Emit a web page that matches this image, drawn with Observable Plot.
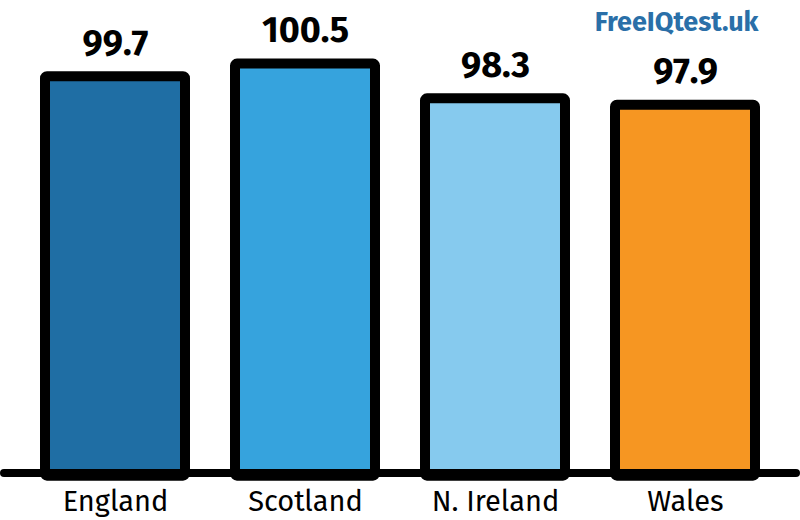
<!DOCTYPE html>
<html>
<head>
<meta charset="utf-8">
<script src="https://cdn.jsdelivr.net/npm/d3@7"></script>
<script src="https://cdn.jsdelivr.net/npm/@observablehq/plot@0.6"></script>
<style>
  html, body { margin: 0; padding: 0; background: #fff; }
  #chart svg { display: block; }
</style>
</head>
<body>
<div id="chart"></div>
<script>
const regions = ["England", "Scotland", "N. Ireland", "Wales"];
const scores = [99.7, 100.5, 98.3, 97.9];
const colors = ["#1f6ea4", "#36a3dd", "#86caee", "#f69622"];
const brand = "FreeIQtest.uk";
const yBase = 74.6;

const data = regions.map((r, i) => ({region: r, score: scores[i], color: colors[i]}));

const chart = Plot.plot({
  width: 800,
  height: 520,
  marginTop: 0,
  marginBottom: 47.5,
  marginLeft: 4,
  marginRight: 4,
  style: {fontFamily: "'Fira Sans', Roboto, 'Open Sans', sans-serif", background: "#fff"},
  x: {domain: regions, range: [20, 780], paddingInner: 0.2632, paddingOuter: 0.1316, label: null},
  y: {domain: [yBase, 101], range: [472.5, 55.7], axis: null},
  marks: [
    Plot.barY(data, {
      x: "region", y1: yBase - 0.2, y2: "score",
      fill: "color", stroke: "black", strokeWidth: 10, strokeLinejoin: "round", rx: 2
    }),
    Plot.text(data, {
      x: "region", y: "score", text: d => d.score.toFixed(1),
      lineAnchor: "bottom", dy: -22, fontSize: 36, fontWeight: "bold", fill: "black"
    }),
    Plot.ruleY([yBase], {stroke: "black", strokeWidth: 8, strokeLinecap: "round"}),
    Plot.axisX({tickSize: 0, tickPadding: 17, fontSize: 29, fill: "black", label: null}),
    Plot.text([brand], {
      frameAnchor: "top-right", text: d => d, dx: -38, dy: 11,
      fontSize: 27, fontWeight: "bold", fill: "#2a6fa8", lineAnchor: "top"
    })
  ]
});
document.getElementById("chart").append(chart);
</script>
</body>
</html>
